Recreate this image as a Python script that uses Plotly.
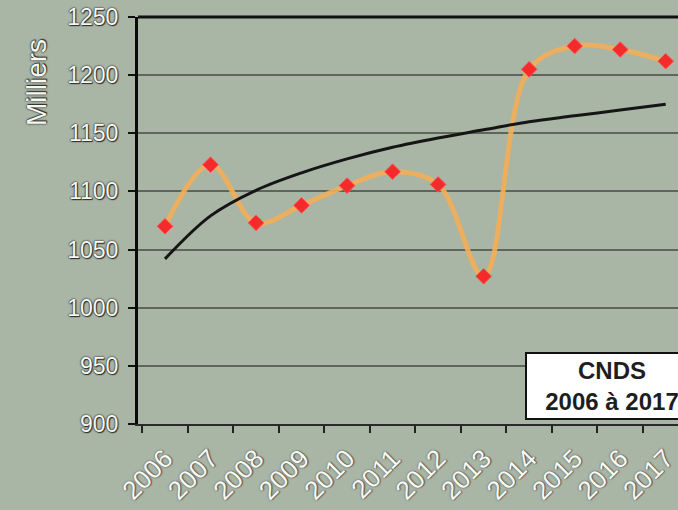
import plotly.graph_objects as go

years = ["2006", "2007", "2008", "2009", "2010", "2011",
         "2012", "2013", "2014", "2015", "2016", "2017"]
values = [1070, 1123, 1073, 1088, 1105, 1117, 1106, 1027, 1205, 1225, 1222, 1212]
trend = [1042, 1079, 1101, 1116, 1128, 1138, 1146, 1153, 1160, 1165, 1170, 1175]
y_ticks = [900, 950, 1000, 1050, 1100, 1150, 1200, 1250]

BG = "#a9b5a5"
outline = "0px 0px 1.5px #222, 0px 0px 1.5px #222, 1px 1px 1px #333"
glow = "0px 0px 2px #555, 1px 1px 1px #666"

fig = go.Figure()
fig.add_trace(go.Scatter(
    x=years, y=values, mode="lines",
    line=dict(color="rgba(242,174,88,0.9)", width=5, shape="spline", smoothing=1),
    showlegend=False, hoverinfo="skip"))
fig.add_trace(go.Scatter(
    x=years, y=trend, mode="lines",
    line=dict(color="#151515", width=3, shape="spline", smoothing=1),
    showlegend=False))
fig.add_trace(go.Scatter(
    x=years, y=values, mode="markers",
    marker=dict(symbol="diamond", size=12, color="#f52a2a",
                line=dict(color="#ff5050", width=1)),
    showlegend=False))

fig.update_layout(
    width=678, height=510,
    margin=dict(l=138, r=0, t=17, b=86),
    paper_bgcolor=BG, plot_bgcolor=BG,
    font=dict(family="Liberation Sans, Arial, sans-serif"),
    xaxis=dict(
        type="category", range=[-0.593, 11.27], tickson="boundaries",
        ticks="outside", ticklen=7, tickwidth=2, tickcolor="#222",
        showline=True, linecolor="#2a2a2a", linewidth=2,
        showgrid=False, tickangle=-45, ticklabelstandoff=7,
        tickfont=dict(size=26, color="#f8faf4", shadow=glow),
    ),
    yaxis=dict(
        range=[900, 1250], tickvals=y_ticks,
        ticks="outside", ticklen=7, tickwidth=2, tickcolor="#111",
        showline=True, linecolor="#0a0a0a", linewidth=3,
        showgrid=True, gridcolor="#5d665b", gridwidth=2,
        zeroline=False, ticklabelstandoff=5,
        tickfont=dict(size=23, color="#f6f8f2", shadow=outline),
    ),
    shapes=[dict(type="line", xref="paper", yref="paper", x0=0, x1=1, y0=1, y1=1,
                 line=dict(color="#111", width=3))],
    annotations=[
        dict(text="Milliers", xref="paper", yref="paper", x=-0.189, y=0.84,
             xanchor="center", yanchor="middle",
             textangle=-90, showarrow=False,
             font=dict(size=28, color="#f6f8f2", shadow=outline)),
        dict(text="<b>CNDS</b><br><b>2006 à 2017</b>", xref="paper", yref="paper",
             x=0.7167, y=0.0098, xanchor="left", yanchor="bottom",
             showarrow=False, align="center", width=168, height=62,
             bgcolor="white", bordercolor="#111", borderwidth=2, borderpad=1,
             font=dict(size=24, color="#1e1e1e")),
    ],
)

fig.write_html("out.html", config={"displayModeBar": False},
               post_script="document.body.style.margin='0px';")
